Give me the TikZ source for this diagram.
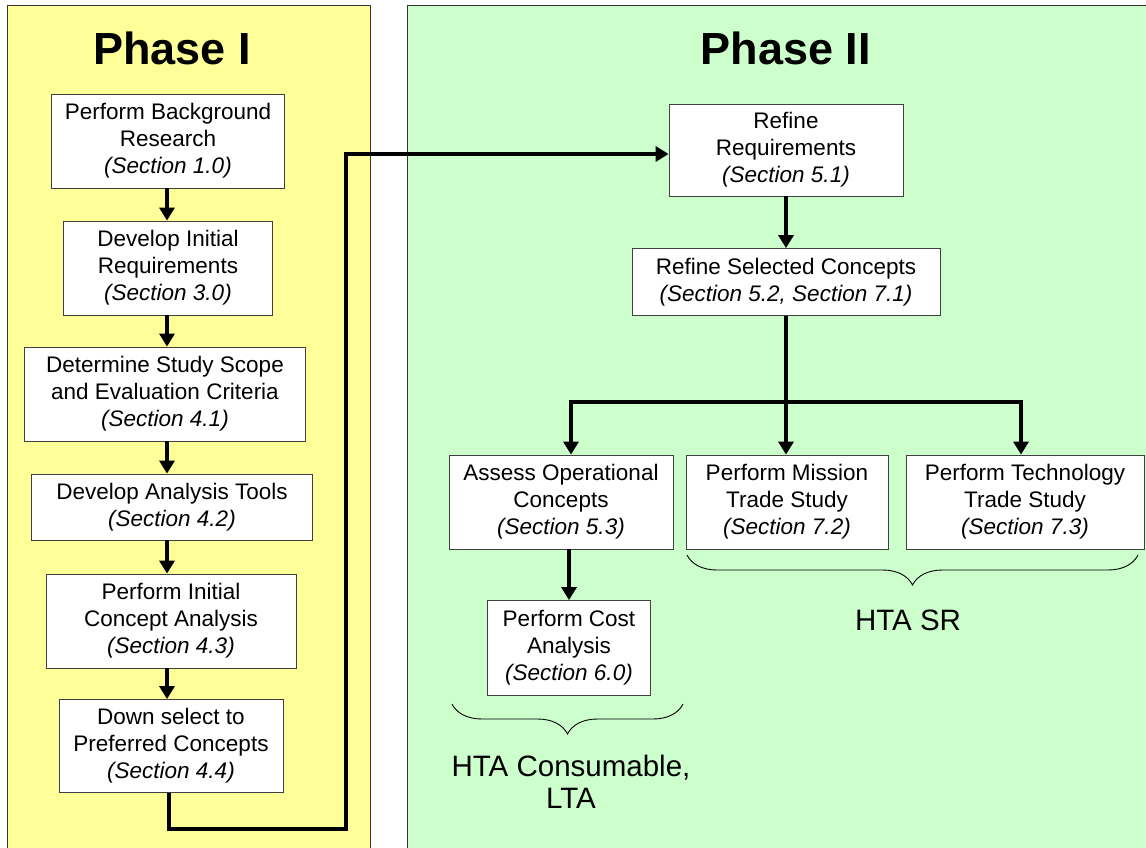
\documentclass[tikz,border=0pt]{standalone}
\usepackage{fontspec}
\setmainfont{Liberation Sans}
\usetikzlibrary{arrows.meta,decorations.pathreplacing}
\definecolor{phaseone}{HTML}{FFFF99}
\definecolor{phasetwo}{HTML}{CCFFCC}
\begin{document}
\begin{tikzpicture}[x=1pt,y=-1pt,
  box/.style={draw=black!75,fill=white,line width=0.8pt,align=center,inner sep=0pt,
    font=\fontsize{22.5}{27}\selectfont},
  flow/.style={line width=3.5pt,-{Triangle[width=15pt,length=13pt]}},
  bar/.style={line width=3.5pt},
  title/.style={font=\fontsize{45}{50}\selectfont\bfseries},
  lbl/.style={font=\fontsize{29.5}{32}\selectfont,align=center},
  curly/.style={decorate,decoration={brace,mirror,amplitude=30pt,aspect=0.5},line width=0.9pt}]
\useasboundingbox (0,0) rectangle (1146,848);
\fill[white] (0,0) rectangle (1146,848);
% panels
\fill[phaseone] (7,6) rectangle (370,848);
\draw[black!80,line width=1pt] (7,848) -- (7,6) -- (370,6) -- (370,848);
\fill[phasetwo] (407,6) rectangle (1146,848);
\draw[black!80,line width=1pt] (407,848) -- (407,6) -- (1146,6);
\node[title] (t1) at (172,48) {Phase I};
\node[title] (t2) at (786,48) {Phase II};
% Phase I boxes
\node[box,minimum width=233pt,minimum height=94pt] (b1) at (168,141)
  {Perform Background\\Research\\\textit{(Section 1.0)}};
\node[box,minimum width=209pt,minimum height=94pt] (b2) at (168,268)
  {Develop Initial\\Requirements\\\textit{(Section 3.0)}};
\node[box,minimum width=281pt,minimum height=94pt] (b3) at (165,394)
  {Determine Study Scope\\and Evaluation Criteria\\\textit{(Section 4.1)}};
\node[box,minimum width=281pt,minimum height=66pt] (b4) at (172,507)
  {Develop Analysis Tools\\\textit{(Section 4.2)}};
\node[box,minimum width=250pt,minimum height=94pt] (b5) at (171,621)
  {Perform Initial\\Concept Analysis\\\textit{(Section 4.3)}};
\node[box,minimum width=224pt,minimum height=93pt] (b6) at (171,746)
  {Down select to\\Preferred Concepts\\\textit{(Section 4.4)}};
% Phase II boxes
\node[box,minimum width=234pt,minimum height=92pt] (b7) at (786,150)
  {Refine\\Requirements\\\textit{(Section 5.1)}};
\node[box,minimum width=308pt,minimum height=67pt] (b8) at (786,282)
  {Refine Selected Concepts\\\textit{(Section 5.2, Section 7.1)}};
\node[box,minimum width=224pt,minimum height=94pt] (b9) at (561,502)
  {Assess Operational\\Concepts\\\textit{(Section 5.3)}};
\node[box,minimum width=202pt,minimum height=94pt] (b10) at (787,502)
  {Perform Mission\\Trade Study\\\textit{(Section 7.2)}};
\node[box,minimum width=238pt,minimum height=94pt] (b11) at (1025,502)
  {Perform Technology\\Trade Study\\\textit{(Section 7.3)}};
\node[box,minimum width=163pt,minimum height=95pt] (b12) at (569,648)
  {Perform Cost\\Analysis\\\textit{(Section 6.0)}};
% Phase I flow
\coordinate (ax) at (167,0);
\draw[flow] (b1.south -| ax) -- (b2.north -| ax);
\draw[flow] (b2.south -| ax) -- (b3.north -| ax);
\draw[flow] (b3.south -| ax) -- (b4.north -| ax);
\draw[flow] (b4.south -| ax) -- (b5.north -| ax);
\draw[flow] (b5.south -| ax) -- (b6.north -| ax);
% link to phase II
\coordinate (c1) at (169,829);
\coordinate (c2) at (346,829);
\coordinate (c3) at (346,154);
\draw[flow] (b6.south -| c1) -- (c1) -- (c2) -- (c3) -- (c3 -| b7.west);
% Phase II flow
\draw[flow] (b7.south) -- (b8.north);
\coordinate (j) at (786,402);
\coordinate (jl) at (571,402);
\coordinate (jr) at (1021,402);
\draw[bar] (b8.south) -- (j);
\draw[bar] ([xshift=-1.75pt]jl) -- ([xshift=1.75pt]jr);
\draw[flow] ([yshift=-1.75pt]jl) -- (jl |- b9.north);
\draw[flow] (j) -- (j |- b10.north);
\draw[flow] ([yshift=-1.75pt]jr) -- (jr |- b11.north);
\draw[flow] (b9.south -| b12.north) -- (b12.north);
% braces
\coordinate (br1a) at (452,704);
\coordinate (br1b) at (683,704);
\draw[curly] (br1a) -- (br1b);
\node[lbl] (l1) at (571,782) {HTA Consumable,\\LTA};
\coordinate (br2a) at (687,555);
\coordinate (br2b) at (1138,555);
\draw[curly] (br2a) -- (br2b);
\node[lbl] (l2) at (908,620) {HTA SR};
\end{tikzpicture}
\end{document}
